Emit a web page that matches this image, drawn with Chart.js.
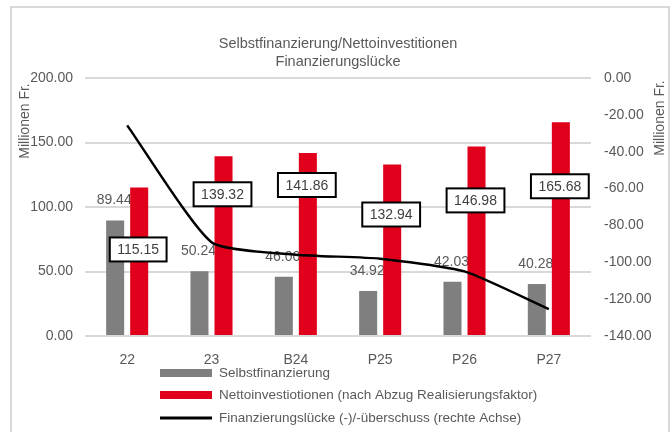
<!DOCTYPE html>
<html><head><meta charset="utf-8">
<script src="https://cdn.jsdelivr.net/npm/chart.js@4"></script>
<style>html,body{margin:0;padding:0;background:#fff}canvas{display:block}</style>
</head><body>
<canvas id="c" width="672" height="432"></canvas>
<script>
// ---- data ----
const categories = ['22', '23', 'B24', 'P25', 'P26', 'P27'];
const selbstfinanzierung = [89.44, 50.24, 46.00, 34.92, 42.03, 40.28];
const nettoinvestitionen = [115.15, 139.32, 141.86, 132.94, 146.98, 165.68];
const finanzierungsluecke = [-25.71, -89.08, -95.86, -98.02, -104.95, -125.40];
const leftTicks = [0, 50, 100, 150, 200];
const rightTicks = [-140, -120, -100, -80, -60, -40, -20, 0];
const titleLines = ['Selbstfinanzierung/Nettoinvestitionen', 'Finanzierungslücke'];
const axisTitle = 'Millionen Fr.';
const seriesNames = ['Selbstfinanzierung', 'Nettoinvestiotionen (nach Abzug Realisierungsfaktor)', 'Finanzierungslücke (-)/-überschuss (rechte Achse)'];

// ---- style ----
const boxLabelDrop = [62, 38, 32, 50, 54, 64]; // px below bar top for boxed labels
const FONT = '"Liberation Sans", Arial, sans-serif';
const TXT = '#595959';
const GRAY = '#7f7f7f';
const RED = '#e0001b';
const GRID = '#d9d9d9';

const custom = {
  id: 'custom',
  beforeDraw(chart) {
    const ctx = chart.ctx;
    ctx.save();
    ctx.fillStyle = '#fff';
    ctx.fillRect(0, 0, chart.width, chart.height);
    ctx.strokeStyle = GRID; ctx.lineWidth = 2;
    ctx.strokeRect(11, 7, 658, 440);
    ctx.restore();
  },
  beforeDatasetsDraw(chart) {
    const ctx = chart.ctx;
    const meta = chart.getDatasetMeta(1);
    ctx.save();
    ctx.font = '14px ' + FONT;
    ctx.fillStyle = TXT;
    ctx.textAlign = 'center'; ctx.textBaseline = 'middle';
    meta.data.forEach((bar, i) => {
      ctx.fillText(selbstfinanzierung[i].toFixed(2), bar.x - 1, bar.y - 20);
    });
    ctx.restore();
  },
  afterDatasetsDraw(chart) {
    const ctx = chart.ctx;
    const meta = chart.getDatasetMeta(2);
    ctx.save();
    ctx.font = '14px ' + FONT;
    ctx.textAlign = 'center'; ctx.textBaseline = 'middle';
    meta.data.forEach((bar, i) => {
      const t = nettoinvestitionen[i].toFixed(2);
      const w = ctx.measureText(t).width + 15;
      const h = 24;
      const cx = bar.x - 1, cy = bar.y + boxLabelDrop[i];
      ctx.fillStyle = '#fff';
      ctx.fillRect(cx - w / 2, cy - h / 2, w, h);
      ctx.strokeStyle = '#000'; ctx.lineWidth = 2;
      ctx.strokeRect(cx - w / 2, cy - h / 2, w, h);
      ctx.fillStyle = '#404040';
      ctx.fillText(t, cx, cy + 1);
    });
    ctx.restore();
  },
  afterDraw(chart) {
    const ctx = chart.ctx;
    ctx.save();
    ctx.fillStyle = TXT;
    ctx.textAlign = 'center'; ctx.textBaseline = 'middle';
    ctx.font = '14.5px ' + FONT;
    ctx.fillText(titleLines[0], 338, 44);
    ctx.fillText(titleLines[1], 338, 62);
    // axis titles
    ctx.font = '14px ' + FONT;
    ctx.save(); ctx.translate(25, 121); ctx.rotate(-Math.PI / 2); ctx.fillText(axisTitle, 0, 0); ctx.restore();
    ctx.save(); ctx.translate(660, 118); ctx.rotate(-Math.PI / 2); ctx.fillText(axisTitle, 0, 0); ctx.restore();
    // legend
    const rows = [373, 395, 418];
    ctx.textAlign = 'left';
    ctx.font = '13.5px ' + FONT;
    rows.forEach((y, i) => {
      if (i < 2) {
        ctx.fillStyle = i === 0 ? GRAY : RED;
        ctx.fillRect(160, y - 4, 52, 8);
      } else {
        ctx.strokeStyle = '#000'; ctx.lineWidth = 3;
        ctx.beginPath(); ctx.moveTo(160, y); ctx.lineTo(212, y); ctx.stroke();
      }
      ctx.fillStyle = TXT;
      ctx.fillText(seriesNames[i], 219, y);
    });
    ctx.restore();
  }
};

new Chart(document.getElementById('c'), {
  data: {
    labels: categories,
    datasets: [
      { type: 'line', label: seriesNames[2], data: finanzierungsluecke, yAxisID: 'y2',
        borderColor: '#000', borderWidth: 2.5, pointRadius: 0, tension: 0.18, order: 0, fill: false },
      { type: 'bar', label: seriesNames[0], data: selbstfinanzierung, yAxisID: 'y',
        backgroundColor: GRAY, order: 1, barPercentage: 0.75, categoryPercentage: 0.57 },
      { type: 'bar', label: seriesNames[1], data: nettoinvestitionen, yAxisID: 'y',
        backgroundColor: RED, order: 2, barPercentage: 0.75, categoryPercentage: 0.57 }
    ]
  },
  options: {
    responsive: false,
    animation: false,
    layout: { padding: { top: 78, left: 0, right: 0, bottom: 0 } },
    plugins: { legend: { display: false }, tooltip: { enabled: false }, title: { display: false } },
    scales: {
      x: {
        grid: { display: false }, border: { display: false },
        ticks: { color: TXT, font: { family: FONT, size: 14 }, padding: 8 },
        afterFit: s => { s.height = 96; }
      },
      y: {
        position: 'left', min: leftTicks[0], max: leftTicks[leftTicks.length - 1],
        afterBuildTicks: s => { s.ticks = leftTicks.map(v => ({ value: v })); },
        ticks: { color: TXT, font: { family: FONT, size: 14 }, padding: 12, callback: v => Number(v).toFixed(2) },
        grid: { color: GRID, lineWidth: 2, drawTicks: false }, border: { display: false },
        afterFit: s => { s.width = 85; }
      },
      y2: {
        position: 'right', min: rightTicks[0], max: rightTicks[rightTicks.length - 1],
        afterBuildTicks: s => { s.ticks = rightTicks.map(v => ({ value: v })); },
        ticks: { color: TXT, font: { family: FONT, size: 14 }, padding: 13, callback: v => Number(v).toFixed(2) },
        grid: { drawOnChartArea: false, drawTicks: false }, border: { display: false },
        afterFit: s => { s.width = 81; }
      }
    }
  },
  plugins: [custom]
});
</script>
</body></html>
